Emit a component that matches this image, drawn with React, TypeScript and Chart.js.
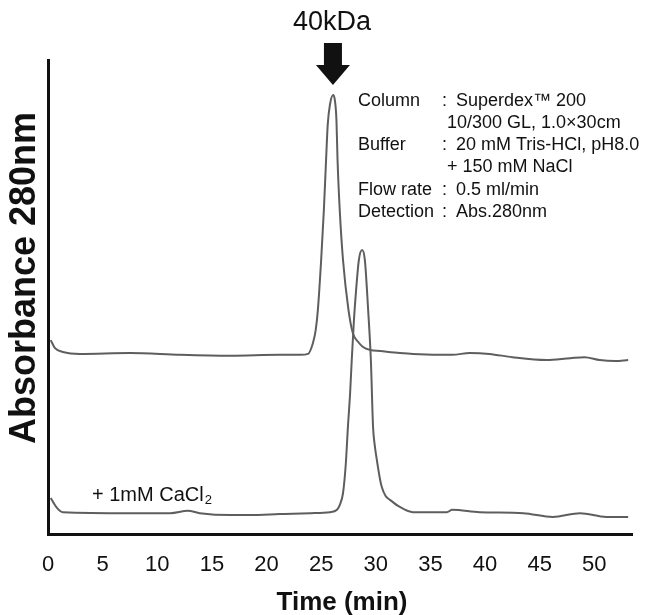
import React, { useEffect, useRef } from "react";
import { Chart, registerables } from "chart.js";

Chart.register(...registerables);

// Elution time (min) and relative absorbance at 280 nm — without CaCl2 (upper trace)
const timeNoCa = [0.25, 0.64, 1.37, 2.93, 7.5, 12.1, 16.7, 21.2, 23.1, 23.8, 24.25, 24.5, 24.7, 25.0, 25.25, 25.45, 25.6, 25.8, 26.1, 26.25, 26.4, 26.5, 26.7, 27.0, 27.5, 27.9, 28.4, 28.8, 29.5, 30.4, 32.2, 33.4, 37.0, 38.6, 40.4, 42.5, 45.6, 47.8, 49.1, 50.5, 51.9, 53.1];
const absNoCa = [40.9, 39.2, 38.4, 38.0, 38.2, 37.8, 37.6, 37.8, 37.8, 38.0, 40.3, 43.0, 47.3, 57.8, 68.4, 78.9, 86.3, 90.5, 92.6, 91.6, 87.3, 78.9, 68.4, 57.8, 47.3, 42.4, 40.5, 39.5, 38.8, 38.6, 38.2, 38.0, 37.8, 38.2, 38.0, 37.3, 36.7, 37.1, 37.3, 36.7, 36.5, 36.7];

// With 1 mM CaCl2 (lower trace)
const timeCa = [0.25, 0.82, 1.37, 7.5, 11.2, 12.8, 13.9, 16.7, 18.5, 21.2, 24.0, 25.8, 26.45, 26.7, 27.0, 27.25, 27.45, 27.65, 27.8, 28.0, 28.2, 28.45, 28.75, 29.0, 29.3, 29.55, 29.75, 29.9, 30.1, 30.4, 30.55, 30.9, 31.3, 32.2, 33.4, 36.5, 37.0, 39.5, 43.5, 46.2, 48.7, 51.1, 53.1];
const absCa = [7.6, 5.5, 4.6, 4.4, 4.4, 4.9, 4.4, 4.0, 4.0, 4.2, 4.4, 4.6, 5.1, 6.1, 8.6, 14.6, 22.6, 29.7, 36.7, 45.1, 51.5, 57.8, 59.9, 57.8, 47.3, 36.7, 22.6, 18.8, 15.6, 11.4, 9.9, 8.0, 7.2, 5.7, 4.6, 4.6, 5.1, 4.6, 4.4, 3.6, 4.4, 3.6, 3.6];

const xTickValues = [0, 5, 10, 15, 20, 25, 30, 35, 40, 45, 50];
const xTickLabels = ["0", "5", "10", "15", "20", "25", "30", "35", "40", "45", "50"];

const xTitle = "Time (min)";
const yTitle = "Absorbance 280nm";
const markerTime = 26.08;
const markerLabel = "40kDa";
const caLabel = "+ 1mM CaCl";
const caSub = "2";

const conditionNames = ["Column", "", "Buffer", "", "Flow rate", "Detection"];
const conditionValues = [
  "Superdex\u2122 200",
  "10/300 GL, 1.0\u00d730cm",
  "20 mM Tris-HCl, pH8.0",
  "+ 150 mM NaCl",
  "0.5 ml/min",
  "Abs.280nm",
];

const INK = "#111111";
const TRACE = "#5e5e5e";
const FONT = "'Liberation Sans', Arial, Helvetica, sans-serif";

const overlayPlugin = {
  id: "overlay",
  afterDraw(chart: any) {
    const { ctx, scales, chartArea } = chart;
    const xs = scales.x;
    ctx.save();
    ctx.fillStyle = INK;

    // Y axis title
    ctx.save();
    ctx.translate(25, 278);
    ctx.rotate(-Math.PI / 2);
    ctx.font = `bold 36px ${FONT}`;
    ctx.textAlign = "center";
    ctx.textBaseline = "middle";
    ctx.fillText(yTitle, 0, 0);
    ctx.restore();

    // X axis title
    ctx.font = `bold 26px ${FONT}`;
    ctx.textAlign = "center";
    ctx.textBaseline = "middle";
    ctx.fillText(xTitle, (chartArea.left + chartArea.right) / 2 + 2, 603);

    // Arrow marker above the main peak
    const ax = xs.getPixelForValue(markerTime);
    ctx.beginPath();
    ctx.moveTo(ax - 9, 43);
    ctx.lineTo(ax + 9, 43);
    ctx.lineTo(ax + 9, 65);
    ctx.lineTo(ax + 17, 65);
    ctx.lineTo(ax, 85);
    ctx.lineTo(ax - 17, 65);
    ctx.lineTo(ax - 9, 65);
    ctx.closePath();
    ctx.fill();

    ctx.font = `27px ${FONT}`;
    ctx.textAlign = "center";
    ctx.textBaseline = "middle";
    ctx.fillText(markerLabel, ax - 1, 23);

    // Conditions block
    ctx.font = `18px ${FONT}`;
    ctx.textAlign = "left";
    const lineY = [101, 123, 145, 167, 190, 212];
    conditionNames.forEach((name, i) => {
      const y = lineY[i];
      if (name) {
        ctx.fillText(name, 358, y);
        ctx.fillText(":", 442, y);
        ctx.fillText(conditionValues[i], 456, y);
      } else {
        ctx.fillText(conditionValues[i], 447, y);
      }
    });

    // CaCl2 label
    ctx.font = `20px ${FONT}`;
    ctx.fillText(caLabel, 92, 495);
    const w = ctx.measureText(caLabel).width;
    ctx.font = `13px ${FONT}`;
    ctx.fillText(caSub, 92 + w + 1, 500);

    ctx.restore();
  },
};

export default function App() {
  const canvasRef = useRef<HTMLCanvasElement | null>(null);

  useEffect(() => {
    if (!canvasRef.current) return;
    const chart = new Chart(canvasRef.current, {
      type: "line",
      data: {
        datasets: [
          {
            label: "no CaCl2",
            data: timeNoCa.map((t, i) => ({ x: t, y: absNoCa[i] })),
            borderColor: TRACE,
            borderWidth: 2,
            pointRadius: 0,
            fill: false,
            cubicInterpolationMode: "monotone",
          },
          {
            label: "+1mM CaCl2",
            data: timeCa.map((t, i) => ({ x: t, y: absCa[i] })),
            borderColor: TRACE,
            borderWidth: 2,
            pointRadius: 0,
            fill: false,
            cubicInterpolationMode: "monotone",
          },
        ],
      },
      options: {
        animation: false,
        responsive: true,
        maintainAspectRatio: false,
        layout: { padding: { top: 60, left: 48, right: 19, bottom: 18.6 } },
        plugins: {
          legend: { display: false },
          tooltip: { enabled: false },
        },
        scales: {
          x: {
            type: "linear",
            min: 0,
            max: 53.45,
            grid: { display: false, drawTicks: false },
            border: { display: true, color: INK, width: 3 },
            afterBuildTicks: (scale: any) => {
              scale.ticks = xTickValues.map((v) => ({ value: v }));
            },
            ticks: {
              padding: 18,
              color: INK,
              font: { family: FONT, size: 22 },
              maxRotation: 0,
              autoSkip: false,
              callback: (value: any) => {
                const idx = xTickValues.indexOf(Number(value));
                return idx >= 0 ? xTickLabels[idx] : "";
              },
            },
          },
          y: {
            type: "linear",
            min: 0,
            max: 100,
            grid: { display: false, drawTicks: false },
            border: { display: true, color: INK, width: 3 },
            ticks: { display: false },
          },
        },
      },
      plugins: [overlayPlugin],
    } as any);
    return () => chart.destroy();
  }, []);

  return (
    <div
      style={{
        position: "fixed",
        left: 0,
        top: 0,
        width: 651,
        height: 615,
        background: "#ffffff",
      }}
    >
      <canvas ref={canvasRef} />
    </div>
  );
}
